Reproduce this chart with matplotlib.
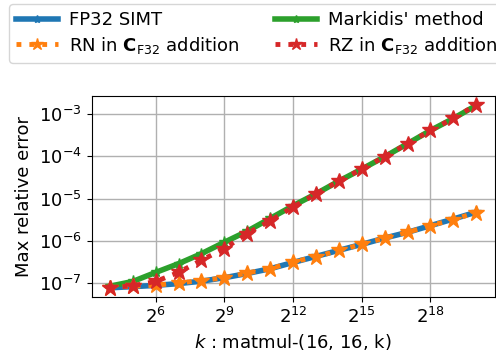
import numpy as np
import matplotlib.pyplot as plt
from matplotlib.ticker import NullLocator

# k exponents: matmul-(16, 16, k), k = 2^4 ... 2^20
k = [2 ** e for e in range(4, 21)]

fp32_simt = [7.8e-8, 8.3e-8, 8.9e-8, 9.8e-8, 1.12e-7, 1.35e-7, 1.7e-7, 2.2e-7, 3.1e-7,
             4.3e-7, 6.0e-7, 8.3e-7, 1.17e-6, 1.6e-6, 2.3e-6, 3.3e-6, 4.8e-6]
markidis = [8.5e-8, 1.1e-7, 1.8e-7, 2.9e-7, 5.0e-7, 9.3e-7, 1.7e-6, 3.4e-6, 6.8e-6,
            1.3e-5, 2.6e-5, 5.0e-5, 9.8e-5, 2.0e-4, 4.1e-4, 7.9e-4, 1.6e-3]
rn_add = [7.9e-8, 8.5e-8, 8.9e-8, 1.02e-7, 1.15e-7, 1.35e-7, 1.74e-7, 2.2e-7, 3.2e-7,
          4.2e-7, 6.0e-7, 8.3e-7, 1.17e-6, 1.6e-6, 2.3e-6, 3.2e-6, 4.7e-6]
rz_add = [7.9e-8, 8.7e-8, 1.1e-7, 1.8e-7, 3.5e-7, 6.6e-7, 1.5e-6, 3.0e-6, 6.3e-6,
          1.3e-5, 2.6e-5, 5.0e-5, 9.8e-5, 2.0e-4, 4.1e-4, 7.9e-4, 1.66e-3]

xtick_exp = [6, 9, 12, 15, 18]

plt.rcParams['font.size'] = 13

fig = plt.figure(figsize=(4.96, 3.51), dpi=100)
ax = fig.add_axes([0.1845, 0.154, 0.8125, 0.5735])

ax.plot(k, fp32_simt, '-', marker='*', color='tab:blue', lw=4, ms=8, label='FP32 SIMT')
ax.plot(k, markidis, '-', marker='*', color='tab:green', lw=4, ms=8, label="Markidis' method")
ax.plot(k, rn_add, ':', marker='*', color='tab:orange', lw=3.5, ms=12,
        label=r'RN in $\mathbf{C}_{\mathrm{F32}}$ addition')
ax.plot(k, rz_add, ':', marker='*', color='tab:red', lw=3.5, ms=12,
        label=r'RZ in $\mathbf{C}_{\mathrm{F32}}$ addition')

ax.set_xscale('log', base=2)
ax.set_yscale('log')
ax.set_xticks([2 ** e for e in xtick_exp])
ax.set_xticklabels([r'$2^{%d}$' % e for e in xtick_exp])
ax.set_yticks([1e-7, 1e-6, 1e-5, 1e-4, 1e-3])
ax.xaxis.set_minor_locator(NullLocator())
ax.yaxis.set_minor_locator(NullLocator())
ax.grid(True, lw=1, color='#b0b0b0')

ax.set_xlabel(r'$k$ : matmul-(16, 16, k)')
ax.set_ylabel('Max relative error')

handles, labels = ax.get_legend_handles_labels()
order = [0, 2, 1, 3]
fig.legend([handles[i] for i in order], [labels[i] for i in order], ncol=2,
           loc='lower left', bbox_to_anchor=(0.018, 0.8205), bbox_transform=fig.transFigure,
           borderaxespad=0, handlelength=2.3, handletextpad=0.6, columnspacing=2.0,
           labelspacing=0.3, markerscale=0.75)

fig.savefig('out.png', dpi=100)
